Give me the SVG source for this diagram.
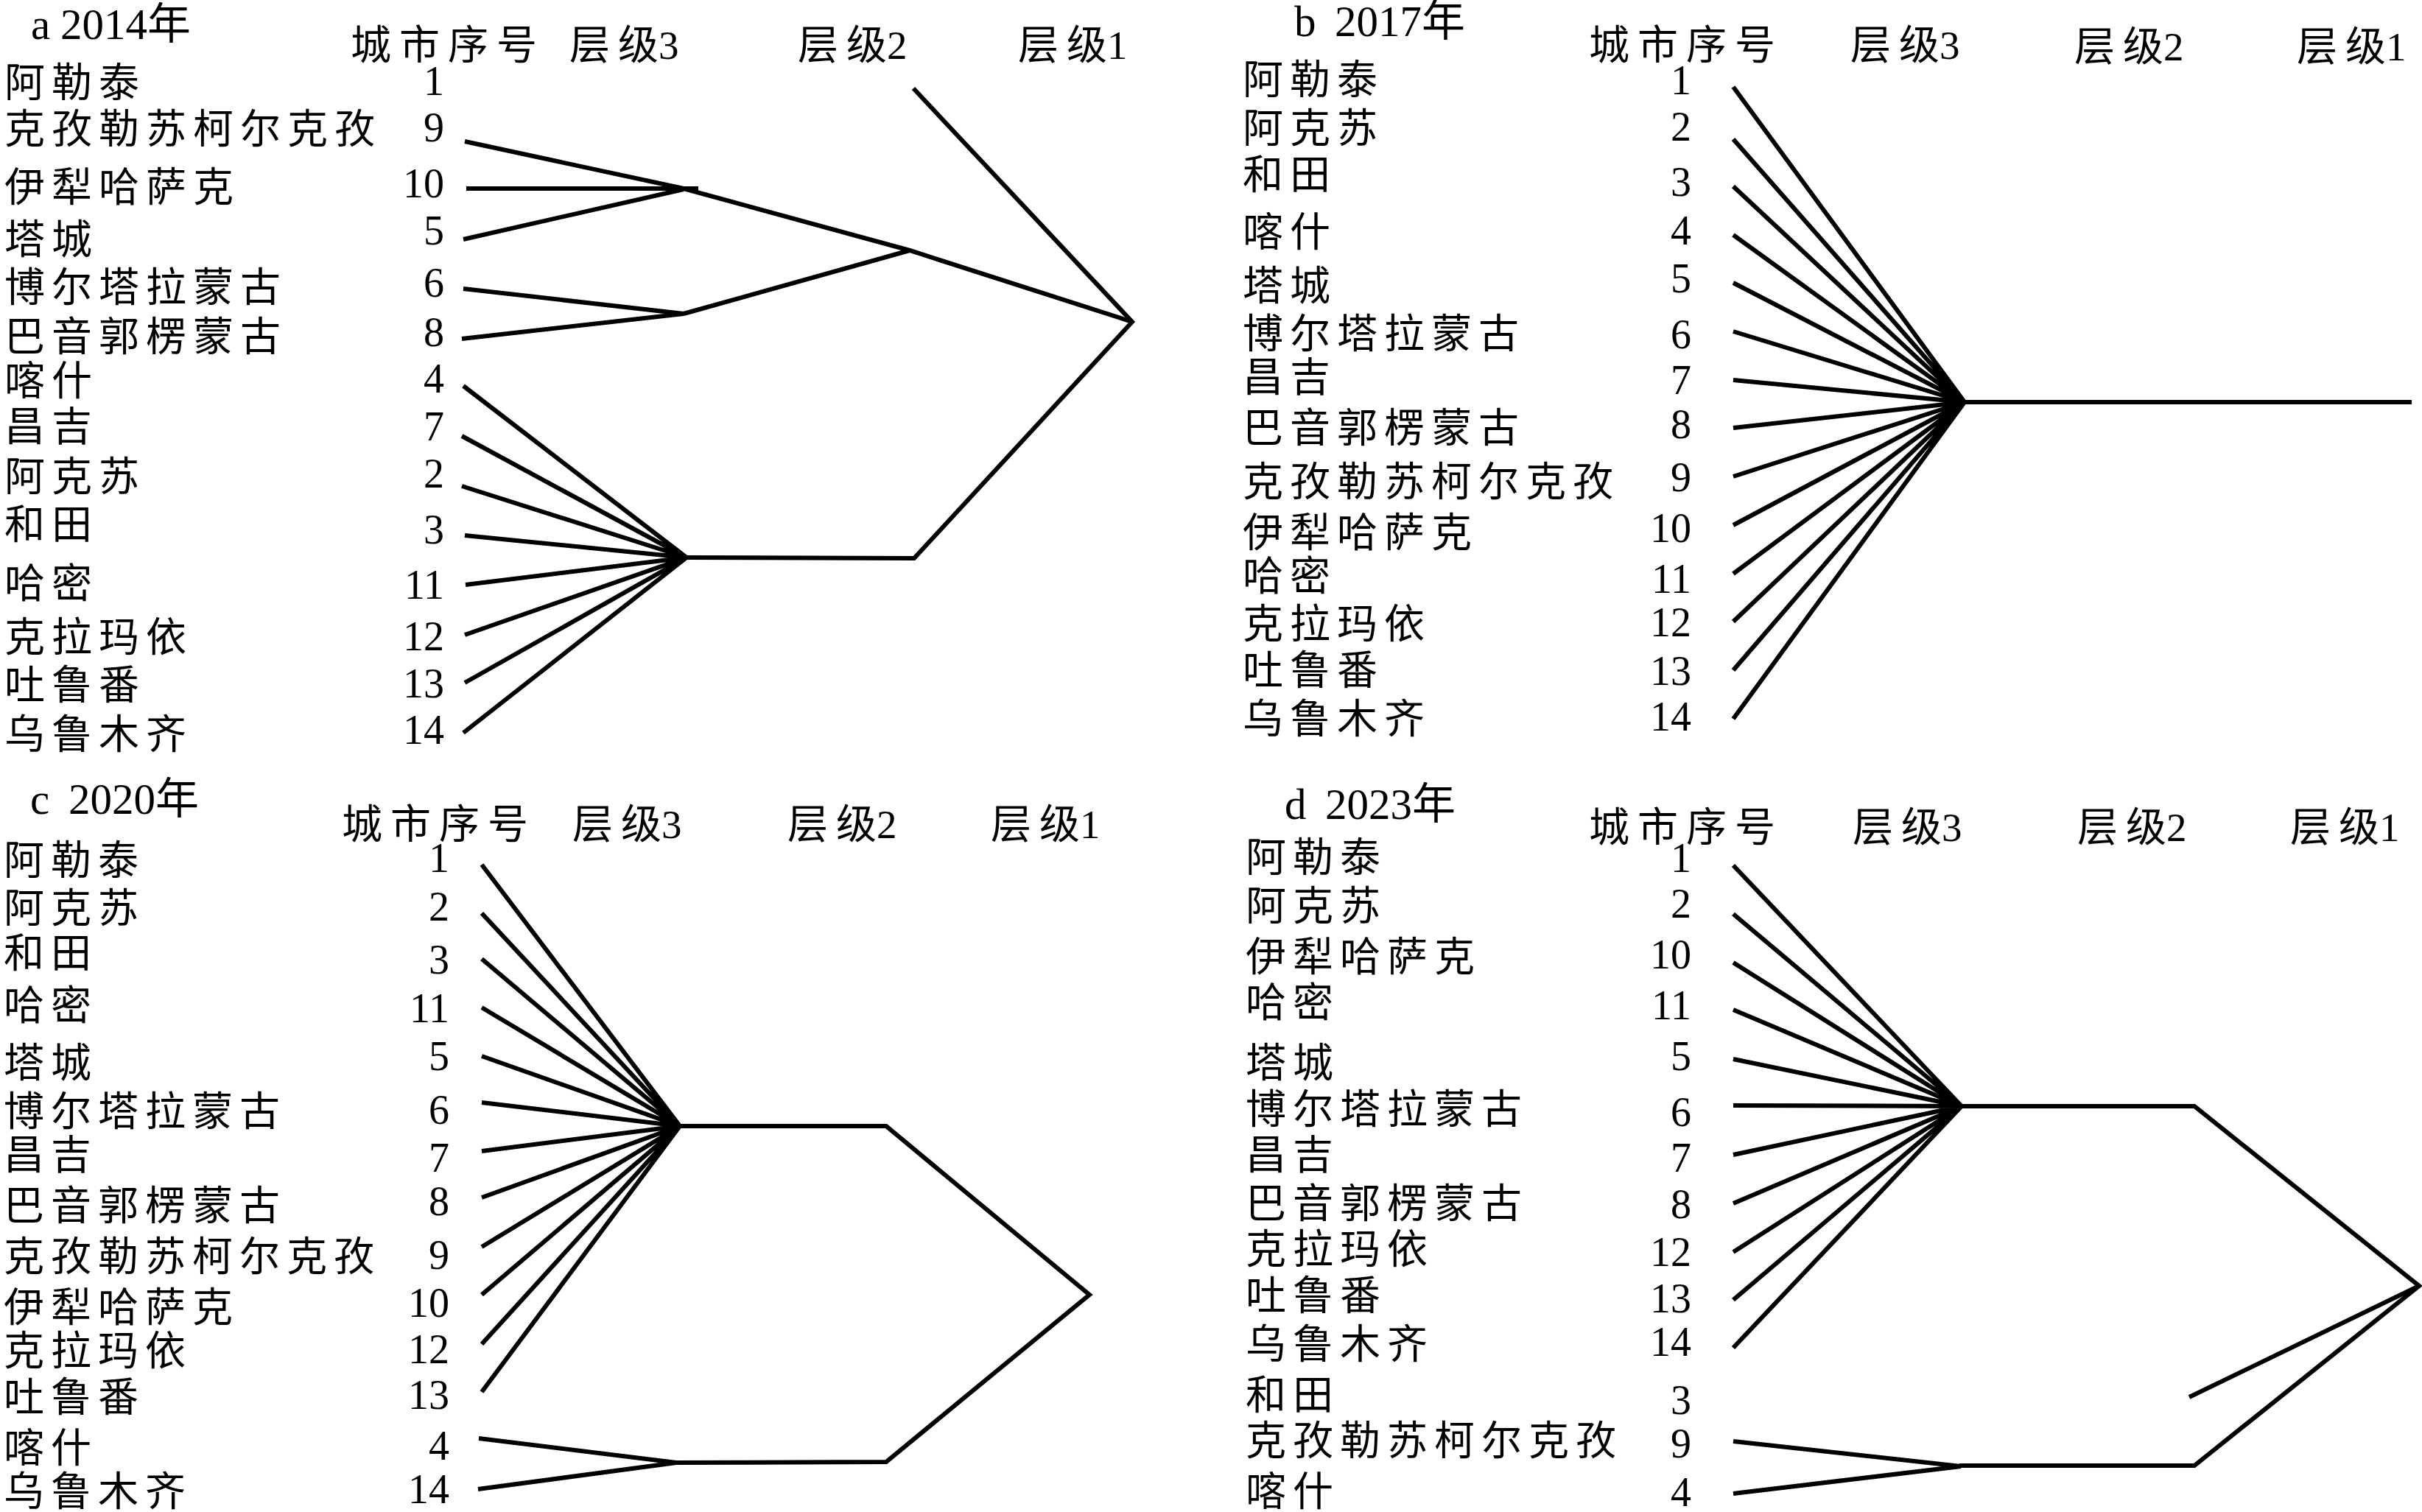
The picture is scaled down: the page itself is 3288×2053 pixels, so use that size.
<svg xmlns="http://www.w3.org/2000/svg" width="3288" height="2053" viewBox="0 0 3288 2053">
<style>
text{font-family:"Liberation Serif","Noto Sans CJK SC",serif;fill:#000}
.t{font-size:59px}
.h{font-size:55px}
.hs{font-size:55px;letter-spacing:11px}
.n{font-size:55px;letter-spacing:9px}
.d{font-size:56px;text-anchor:end}
.c{fill:none;stroke:#000;stroke-width:6;stroke-linejoin:miter;stroke-linecap:butt}
</style>
<rect width="3288" height="2053" fill="#fff"/>

<!-- Panel a -->
<g id="panel-a">
<g id="a-title"><text class="t" y="53"><tspan x="42">a</tspan><tspan x="82">2014年</tspan></text></g>
<g id="a-headers">
<text class="hs" x="476" y="80">城市序号</text>
<text class="h" x="773" y="80">层<tspan dx="11">级3</tspan></text>
<text class="h" x="1083" y="80">层<tspan dx="11">级2</tspan></text>
<text class="h" x="1382" y="80">层<tspan dx="11">级1</tspan></text>
</g>
<g id="a-n1"><text class="n" x="6" y="131">阿勒泰</text><text class="d" x="603" y="129">1</text></g>
<g id="a-n9"><text class="n" x="6" y="194">克孜勒苏柯尔克孜</text><text class="d" x="603" y="192">9</text></g>
<g id="a-n10"><text class="n" x="6" y="273">伊犁哈萨克</text><text class="d" x="603" y="268">10</text></g>
<g id="a-n5"><text class="n" x="6" y="344">塔城</text><text class="d" x="603" y="332">5</text></g>
<g id="a-n6"><text class="n" x="6" y="409">博尔塔拉蒙古</text><text class="d" x="603" y="403">6</text></g>
<g id="a-n8"><text class="n" x="6" y="476">巴音郭楞蒙古</text><text class="d" x="603" y="470">8</text></g>
<g id="a-n4"><text class="n" x="6" y="536">喀什</text><text class="d" x="603" y="533">4</text></g>
<g id="a-n7"><text class="n" x="6" y="598">昌吉</text><text class="d" x="603" y="598">7</text></g>
<g id="a-n2"><text class="n" x="6" y="666">阿克苏</text><text class="d" x="603" y="662">2</text></g>
<g id="a-n3"><text class="n" x="6" y="731">和田</text><text class="d" x="603" y="738">3</text></g>
<g id="a-n11"><text class="n" x="6" y="811">哈密</text><text class="d" x="603" y="813">11</text></g>
<g id="a-n12"><text class="n" x="6" y="884">克拉玛依</text><text class="d" x="603" y="883">12</text></g>
<g id="a-n13"><text class="n" x="6" y="949">吐鲁番</text><text class="d" x="603" y="947">13</text></g>
<g id="a-n14"><text class="n" x="6" y="1016">乌鲁木齐</text><text class="d" x="603" y="1010">14</text></g>
<g id="a-connectors">
<path class="c" d="M631,192L928,256M633,256L948,256M629,325L928,257"/>
<path class="c" d="M928,256L1235,340L1537,437"/>
<path class="c" d="M629,392L928,426L627,460M928,426L1235,340"/>
<path class="c" d="M1240,120L1537,437L1241,758L932,757"/>
<path class="c" d="M629,524L932,757M627,592L932,757M627,660L932,757M631,727L932,757M632,794L932,757M631,862L932,757M631,927L932,757M629,995L932,757"/>
</g>
</g>

<!-- Panel b -->
<g id="panel-b">
<g id="b-title"><text class="t" y="49"><tspan x="1757">b</tspan><tspan x="1812">2017年</tspan></text></g>
<g id="b-headers">
<text class="hs" x="2157" y="80">城市序号</text>
<text class="h" x="2512" y="80">层<tspan dx="11">级3</tspan></text>
<text class="h" x="2816" y="82">层<tspan dx="11">级2</tspan></text>
<text class="h" x="3118" y="82">层<tspan dx="11">级1</tspan></text>
</g>
<g id="b-n1"><text class="n" x="1687" y="127">阿勒泰</text><text class="d" x="2296" y="128">1</text></g>
<g id="b-n2"><text class="n" x="1687" y="193">阿克苏</text><text class="d" x="2296" y="191">2</text></g>
<g id="b-n3"><text class="n" x="1687" y="256">和田</text><text class="d" x="2296" y="266">3</text></g>
<g id="b-n4"><text class="n" x="1687" y="334">喀什</text><text class="d" x="2296" y="332">4</text></g>
<g id="b-n5"><text class="n" x="1687" y="407">塔城</text><text class="d" x="2296" y="397">5</text></g>
<g id="b-n6"><text class="n" x="1687" y="472">博尔塔拉蒙古</text><text class="d" x="2296" y="473">6</text></g>
<g id="b-n7"><text class="n" x="1687" y="531">昌吉</text><text class="d" x="2296" y="535">7</text></g>
<g id="b-n8"><text class="n" x="1687" y="600">巴音郭楞蒙古</text><text class="d" x="2296" y="595">8</text></g>
<g id="b-n9"><text class="n" x="1687" y="673">克孜勒苏柯尔克孜</text><text class="d" x="2296" y="667">9</text></g>
<g id="b-n10"><text class="n" x="1687" y="742">伊犁哈萨克</text><text class="d" x="2296" y="736">10</text></g>
<g id="b-n11"><text class="n" x="1687" y="801">哈密</text><text class="d" x="2296" y="805">11</text></g>
<g id="b-n12"><text class="n" x="1687" y="866">克拉玛依</text><text class="d" x="2296" y="864">12</text></g>
<g id="b-n13"><text class="n" x="1687" y="929">吐鲁番</text><text class="d" x="2296" y="930">13</text></g>
<g id="b-n14"><text class="n" x="1687" y="995">乌鲁木齐</text><text class="d" x="2296" y="992">14</text></g>
<g id="b-connectors">
<path class="c" d="M2353,118L2667,546M2353,189L2667,546M2353,253L2667,546M2353,319L2667,546M2353,384L2667,546M2353,450L2667,546M2353,516L2667,546M2353,581L2667,546M2353,647L2667,546M2353,713L2667,546M2353,779L2667,546M2353,844L2667,546M2353,910L2667,546M2353,976L2667,546"/>
<path class="c" d="M2667,546L3274,546"/>
</g>
</g>

<!-- Panel c -->
<g id="panel-c">
<g id="c-title"><text class="t" y="1105"><tspan x="41">c</tspan><tspan x="93">2020年</tspan></text></g>
<g id="c-headers">
<text class="hs" x="464" y="1138">城市序号</text>
<text class="h" x="777" y="1138">层<tspan dx="11">级3</tspan></text>
<text class="h" x="1069" y="1138">层<tspan dx="11">级2</tspan></text>
<text class="h" x="1345" y="1138">层<tspan dx="11">级1</tspan></text>
</g>
<g id="c-n1"><text class="n" x="5" y="1187">阿勒泰</text><text class="d" x="610" y="1184">1</text></g>
<g id="c-n2"><text class="n" x="5" y="1252">阿克苏</text><text class="d" x="610" y="1250">2</text></g>
<g id="c-n3"><text class="n" x="5" y="1313">和田</text><text class="d" x="610" y="1322">3</text></g>
<g id="c-n11"><text class="n" x="5" y="1384">哈密</text><text class="d" x="610" y="1388">11</text></g>
<g id="c-n5"><text class="n" x="5" y="1462">塔城</text><text class="d" x="610" y="1453">5</text></g>
<g id="c-n6"><text class="n" x="5" y="1528">博尔塔拉蒙古</text><text class="d" x="610" y="1526">6</text></g>
<g id="c-n7"><text class="n" x="5" y="1587">昌吉</text><text class="d" x="610" y="1591">7</text></g>
<g id="c-n8"><text class="n" x="5" y="1656">巴音郭楞蒙古</text><text class="d" x="610" y="1650">8</text></g>
<g id="c-n9"><text class="n" x="5" y="1725">克孜勒苏柯尔克孜</text><text class="d" x="610" y="1723">9</text></g>
<g id="c-n10"><text class="n" x="5" y="1794">伊犁哈萨克</text><text class="d" x="610" y="1788">10</text></g>
<g id="c-n12"><text class="n" x="5" y="1853">克拉玛依</text><text class="d" x="610" y="1851">12</text></g>
<g id="c-n13"><text class="n" x="5" y="1916">吐鲁番</text><text class="d" x="610" y="1913">13</text></g>
<g id="c-n4"><text class="n" x="5" y="1985">喀什</text><text class="d" x="610" y="1982">4</text></g>
<g id="c-n14"><text class="n" x="5" y="2044">乌鲁木齐</text><text class="d" x="610" y="2041">14</text></g>
<g id="c-connectors">
<path class="c" d="M654,1174L923,1529M654,1240L923,1529M654,1302L923,1529M654,1368L923,1529M654,1434L923,1529M654,1497L923,1529M654,1563L923,1529M654,1626L923,1529M654,1693L923,1529M654,1758L923,1529M654,1825L923,1529M654,1890L923,1529"/>
<path class="c" d="M923,1529L1203,1529L1479,1758L1203,1985L917,1986"/>
<path class="c" d="M650,1953L918,1986L649,2022"/>
</g>
</g>

<!-- Panel d -->
<g id="panel-d">
<g id="d-title"><text class="t" y="1112"><tspan x="1744">d</tspan><tspan x="1799">2023年</tspan></text></g>
<g id="d-headers">
<text class="hs" x="2157" y="1142">城市序号</text>
<text class="h" x="2515" y="1142">层<tspan dx="11">级3</tspan></text>
<text class="h" x="2820" y="1142">层<tspan dx="11">级2</tspan></text>
<text class="h" x="3109" y="1142">层<tspan dx="11">级1</tspan></text>
</g>
<g id="d-n1"><text class="n" x="1691" y="1183">阿勒泰</text><text class="d" x="2296" y="1184">1</text></g>
<g id="d-n2"><text class="n" x="1691" y="1249">阿克苏</text><text class="d" x="2296" y="1246">2</text></g>
<g id="d-n10"><text class="n" x="1691" y="1318">伊犁哈萨克</text><text class="d" x="2296" y="1315">10</text></g>
<g id="d-n11"><text class="n" x="1691" y="1380">哈密</text><text class="d" x="2296" y="1384">11</text></g>
<g id="d-n5"><text class="n" x="1691" y="1462">塔城</text><text class="d" x="2296" y="1453">5</text></g>
<g id="d-n6"><text class="n" x="1691" y="1525">博尔塔拉蒙古</text><text class="d" x="2296" y="1529">6</text></g>
<g id="d-n7"><text class="n" x="1691" y="1587">昌吉</text><text class="d" x="2296" y="1591">7</text></g>
<g id="d-n8"><text class="n" x="1691" y="1653">巴音郭楞蒙古</text><text class="d" x="2296" y="1654">8</text></g>
<g id="d-n12"><text class="n" x="1691" y="1715">克拉玛依</text><text class="d" x="2296" y="1719">12</text></g>
<g id="d-n13"><text class="n" x="1691" y="1778">吐鲁番</text><text class="d" x="2296" y="1782">13</text></g>
<g id="d-n14"><text class="n" x="1691" y="1844">乌鲁木齐</text><text class="d" x="2296" y="1841">14</text></g>
<g id="d-n3"><text class="n" x="1691" y="1913">和田</text><text class="d" x="2296" y="1920">3</text></g>
<g id="d-n9"><text class="n" x="1691" y="1975">克孜勒苏柯尔克孜</text><text class="d" x="2296" y="1979">9</text></g>
<g id="d-n4"><text class="n" x="1691" y="2044">喀什</text><text class="d" x="2296" y="2045">4</text></g>
<g id="d-connectors">
<path class="c" d="M2353,1175L2663,1502M2353,1241L2663,1502M2353,1307L2663,1502M2353,1371L2663,1502M2353,1438L2663,1502M2353,1501L2663,1502M2353,1568L2663,1502M2353,1634L2663,1502M2353,1700L2663,1502M2353,1765L2663,1502M2353,1830L2663,1502"/>
<path class="c" d="M2663,1502L2979,1502L3284,1746L2979,1990L2660,1990"/>
<path class="c" d="M3284,1746L2972,1897"/>
<path class="c" d="M2353,1957L2662,1991L2353,2028"/>
</g>
</g>
</svg>
